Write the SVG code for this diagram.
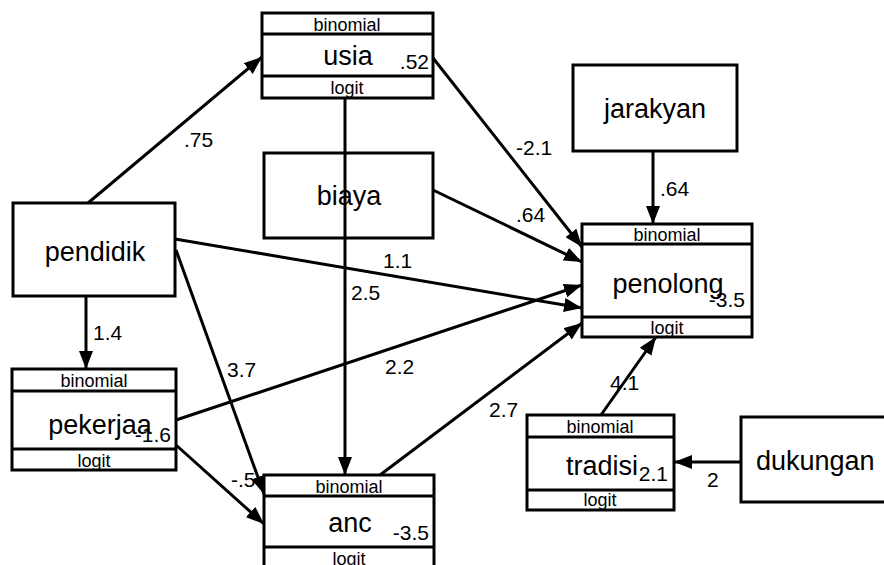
<svg xmlns="http://www.w3.org/2000/svg" width="884" height="565" viewBox="0 0 884 565">
<style>
rect{fill:#fff;stroke:#000;stroke-width:3}
.div{stroke:#000;stroke-width:3}
text{font-family:"Liberation Sans",Arial,sans-serif;fill:#000}
.nm{font-size:27px;text-anchor:middle}
.st{text-anchor:start}
.sm{font-size:18px;text-anchor:middle}
.cf{font-size:21px}
.en{text-anchor:end}
.e{stroke:#000;stroke-width:3;fill:none;marker-end:url(#ah)}
</style>
<defs>
<marker id="ah" markerUnits="userSpaceOnUse" markerWidth="20" markerHeight="14" refX="18" refY="7" orient="auto" viewBox="0 0 20 14">
<path d="M0,0 L18,7 L0,14 z" fill="#000"/>
</marker>
</defs>
<g id="usia">
<rect x="262" y="13" width="171" height="85"/>
<line class="div" x1="262" y1="34" x2="433" y2="34"/>
<line class="div" x1="262" y1="76" x2="433" y2="76"/>
<text class="sm" x="347" y="31">binomial</text>
<text class="nm" x="348" y="65">usia</text>
<text class="cf en" x="429" y="69">.52</text>
<text class="sm" x="347" y="94">logit</text>
</g>
<g id="biaya">
<rect x="264" y="153" width="169" height="85"/>
<text class="nm" x="349" y="205">biaya</text>
</g>
<g id="jarakyan">
<rect x="573" y="65" width="164" height="86"/>
<text class="nm" x="655" y="118">jarakyan</text>
</g>
<g id="pendidik">
<rect x="13" y="203" width="162" height="93"/>
<text class="nm" x="95" y="261">pendidik</text>
</g>
<g id="penolong">
<rect x="582" y="224" width="170" height="113"/>
<line class="div" x1="582" y1="244" x2="752" y2="244"/>
<line class="div" x1="582" y1="317" x2="752" y2="317"/>
<text class="sm" x="667" y="241">binomial</text>
<text class="nm" x="668" y="293">penolong</text>
<text class="cf en" x="745" y="307">-3.5</text>
<text class="sm" x="667" y="334">logit</text>
</g>
<g id="pekerjaa">
<rect x="12" y="369" width="164" height="101"/>
<line class="div" x1="12" y1="391" x2="176" y2="391"/>
<line class="div" x1="12" y1="449" x2="176" y2="449"/>
<text class="sm" x="94" y="387">binomial</text>
<text class="nm" x="100" y="434">pekerjaa</text>
<text class="cf en" x="171" y="442">-1.6</text>
<text class="sm" x="94" y="467">logit</text>
</g>
<g id="anc">
<rect x="264" y="475" width="170" height="100"/>
<line class="div" x1="264" y1="496" x2="434" y2="496"/>
<line class="div" x1="264" y1="547" x2="434" y2="547"/>
<text class="sm" x="349" y="493">binomial</text>
<text class="nm" x="350" y="532">anc</text>
<text class="cf en" x="429" y="540">-3.5</text>
<text class="sm" x="349" y="565">logit</text>
</g>
<g id="tradisi">
<rect x="527" y="415" width="147" height="95"/>
<line class="div" x1="527" y1="437" x2="674" y2="437"/>
<line class="div" x1="527" y1="490" x2="674" y2="490"/>
<text class="sm" x="600" y="433">binomial</text>
<text class="nm st" x="566" y="475">tradisi</text>
<text class="cf en" x="668" y="481">2.1</text>
<text class="sm" x="600" y="506">logit</text>
</g>
<g id="dukungan">
<rect x="741" y="417" width="160" height="85"/>
<text class="nm st" x="756" y="470">dukungan</text>
</g>
<g id="connectors">
<line class="e" x1="88" y1="203" x2="262" y2="57"/>
<line class="e" x1="433" y1="58" x2="582" y2="247"/>
<line class="e" x1="345" y1="98" x2="345" y2="475"/>
<line class="e" x1="433" y1="190" x2="582" y2="262"/>
<line class="e" x1="653" y1="151" x2="653" y2="224"/>
<line class="e" x1="175" y1="239" x2="582" y2="308"/>
<line class="e" x1="176" y1="420" x2="582" y2="285"/>
<line class="e" x1="380" y1="475" x2="582" y2="323"/>
<line class="e" x1="86" y1="296" x2="86" y2="369"/>
<line class="e" x1="176" y1="250" x2="264" y2="494"/>
<line class="e" x1="176" y1="445" x2="264" y2="524"/>
<line class="e" x1="601" y1="415" x2="656" y2="337"/>
<line class="e" x1="741" y1="462" x2="674" y2="462"/>
<text class="cf" x="184" y="147">.75</text>
<text class="cf" x="516" y="155">-2.1</text>
<text class="cf" x="516" y="222">.64</text>
<text class="cf" x="660" y="196">.64</text>
<text class="cf" x="383" y="268">1.1</text>
<text class="cf" x="351" y="300">2.5</text>
<text class="cf" x="93" y="340">1.4</text>
<text class="cf" x="227" y="377">3.7</text>
<text class="cf" x="385" y="374">2.2</text>
<text class="cf" x="489" y="417">2.7</text>
<text class="cf" x="231" y="487">-.5</text>
<text class="cf" x="610" y="390">4.1</text>
<text class="cf" x="707" y="487">2</text>
</g>
</svg>
